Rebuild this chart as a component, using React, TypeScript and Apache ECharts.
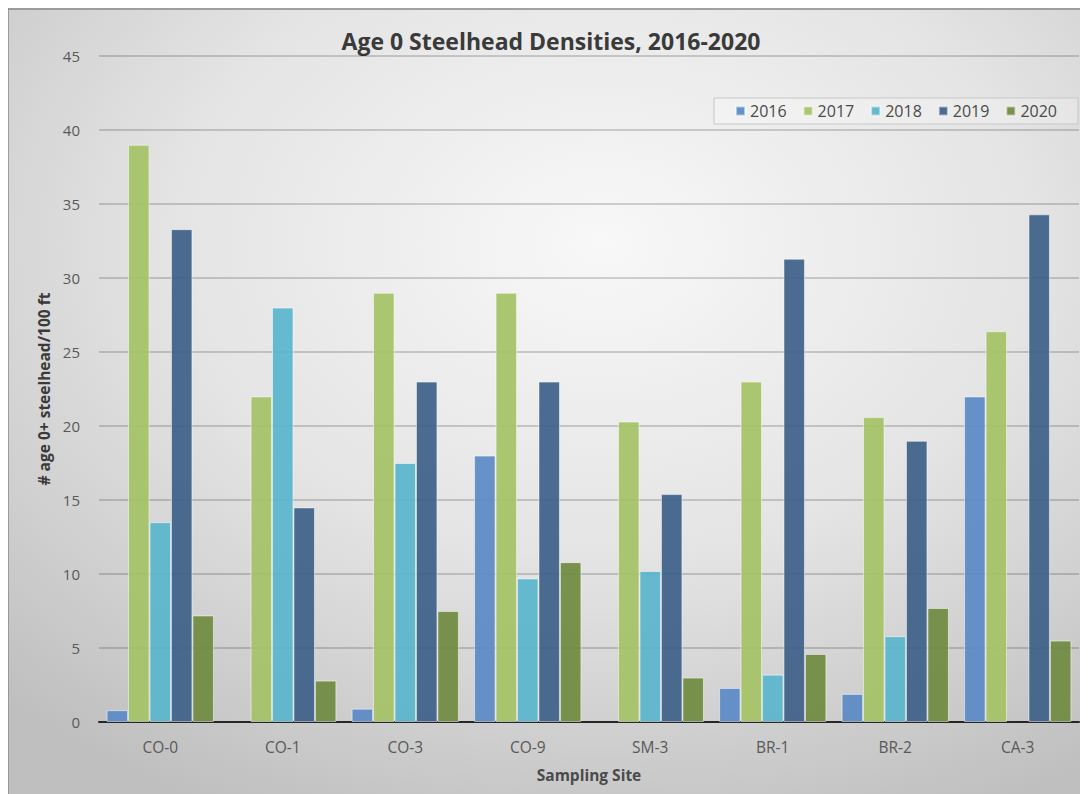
import React, { useEffect, useRef } from "react";
import * as echarts from "echarts";

const sites = ["CO-0", "CO-1", "CO-3", "CO-9", "SM-3", "BR-1", "BR-2", "CA-3"];
const years = ["2016", "2017", "2018", "2019", "2020"];
const d2016 = [0.8, null, 0.9, 18.0, null, 2.3, 1.9, 22.0];
const d2017 = [39.0, 22.0, 29.0, 29.0, 20.3, 23.0, 20.6, 26.4];
const d2018 = [13.5, 28.0, 17.5, 9.7, 10.2, 3.2, 5.8, null];
const d2019 = [33.3, 14.5, 23.0, 23.0, 15.4, 31.3, 19.0, 34.3];
const d2020 = [7.2, 2.8, 7.5, 10.8, 3.0, 4.6, 7.7, 5.5];
const seriesData = [d2016, d2017, d2018, d2019, d2020];
const colors = ["#5a8ac6", "#a4c266", "#5ab5cc", "#3e5f88", "#6f8a3f"];

const titleText = "Age 0 Steelhead Densities, 2016-2020";
const yName = "# age 0+ steelhead/100 ft";
const xName = "Sampling Site";
const FONT = "'Open Sans', sans-serif";

export default function App() {
  const ref = useRef<HTMLDivElement>(null);
  useEffect(() => {
    if (!ref.current) return;
    const chart = echarts.init(ref.current, undefined, { renderer: "svg" });
    chart.setOption({
      animation: false,
      backgroundColor: new echarts.graphic.RadialGradient(0.55, 0.3, 0.8, [
        { offset: 0, color: "#f8f8f8" },
        { offset: 0.5, color: "#e4e4e4" },
        { offset: 1, color: "#bfbfbf" },
      ]),
      textStyle: { fontFamily: FONT },
      graphic: [
        {
          type: "text",
          x: 543,
          y: 33,
          style: {
            text: titleText,
            fontFamily: FONT,
            fontSize: 23,
            fontWeight: "bold",
            fill: "#3a3a3a",
            textAlign: "center",
            textVerticalAlign: "middle",
          },
        },
        {
          type: "line",
          shape: { x1: 0, y1: 1, x2: 1080, y2: 1 },
          style: { stroke: "#8a8a8a", lineWidth: 1.5 },
        },
        {
          type: "line",
          shape: { x1: 0, y1: 0, x2: 0, y2: 786 },
          style: { stroke: "#8a8a8a", lineWidth: 1.5 },
        },
      ],
      legend: {
        data: years,
        left: 706,
        top: 90,
        padding: [5, 21],
        itemWidth: 9,
        itemHeight: 9,
        itemGap: 16,
        icon: "rect",
        borderColor: "#c8c8c8",
        borderWidth: 1,
        backgroundColor: "rgba(255,255,255,0.25)",
        textStyle: { fontFamily: FONT, fontSize: 16, color: "#4a4a4a" },
      },
      grid: { left: 91, right: 9, top: 48, bottom: 72, containLabel: false },
      xAxis: {
        type: "category",
        data: sites,
        name: xName,
        nameLocation: "middle",
        nameGap: 45,
        nameTextStyle: { fontFamily: FONT, fontSize: 15.5, fontWeight: "bold", color: "#4a4a4a" },
        axisLine: { lineStyle: { color: "#262626", width: 2 } },
        axisTick: { show: false },
        axisLabel: { fontFamily: FONT, fontSize: 15.5, color: "#595959", margin: 17 },
      },
      yAxis: {
        type: "value",
        min: 0,
        max: 45,
        interval: 5,
        name: yName,
        nameLocation: "middle",
        nameGap: 46,
        nameTextStyle: { fontFamily: FONT, fontSize: 15.5, fontWeight: "bold", color: "#3a3a3a" },
        axisLine: { show: false },
        axisTick: { show: false },
        axisLabel: { fontFamily: FONT, fontSize: 15, color: "#595959", margin: 19 },
        splitLine: { lineStyle: { color: "rgba(0,0,0,0.22)", width: 1.5 } },
      },
      series: years.map((y, i) => ({
        name: y,
        type: "bar",
        data: seriesData[i],
        barGap: "0%",
        barCategoryGap: "12.4%",
        itemStyle: {
          color: colors[i],
          opacity: 0.92,
          borderColor: "rgba(255,255,255,0.55)",
          borderWidth: 1,
        },
      })),
    });
    return () => chart.dispose();
  }, []);
  return <div ref={ref} style={{ width: 1080, height: 786 }} />;
}
